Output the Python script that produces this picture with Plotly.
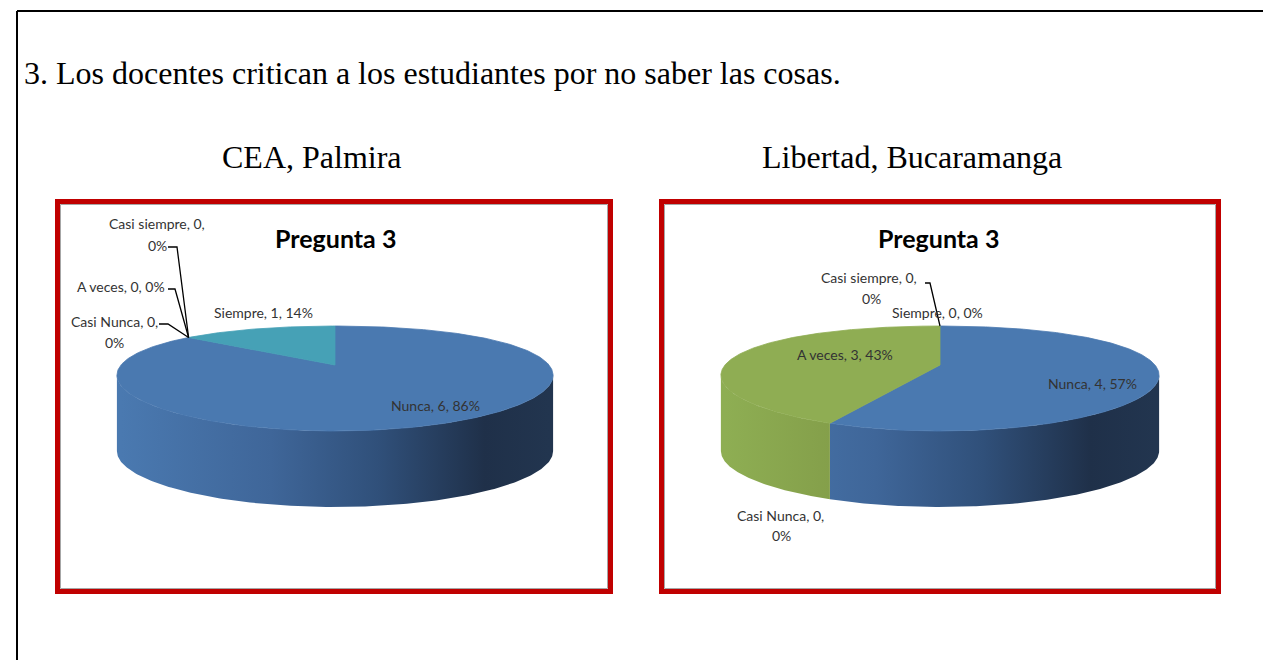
import numpy as np
import plotly.graph_objects as go

# ---------------- data ----------------
categories = ["Nunca", "Casi Nunca", "A veces", "Casi siempre", "Siempre"]
cea_values = [6, 0, 0, 0, 1]
libertad_values = [4, 0, 3, 0, 0]
slice_colors = ["#4a79b0", "#c0504d", "#8fad53", "#8064a2", "#46a1b6"]
side_colorscales = [
    [[0, "#4a79b0"], [0.35, "#3f6699"], [0.6, "#30507a"], [0.85, "#1f3049"], [1, "#22354f"]],
    [[0, "#c0504d"], [1, "#5a2120"]],
    [[0, "#8eae53"], [0.25, "#849f4a"], [0.6, "#5e7434"], [1, "#3d4b22"]],
    [[0, "#8064a2"], [1, "#3b2e4b"]],
    [[0, "#46a1b6"], [1, "#1f4a54"]],
]
page_title = "3. Los docentes critican a los estudiantes por no saber las cosas."
chart_names = ["CEA, Palmira", "Libertad, Bucaramanga"]
chart_title = "Pregunta 3"

W, H = 1271, 660
OFF = 8  # default page margin of the html body

# ---------------- geometry / layout ----------------
pies = [
    dict(values=cea_values, cx=335, cy=365, A=214, box=(55, 199, 613, 594), name_x=312, title_x=335,
         labels={
             "Nunca": [(435, 405)],
             "Siempre": [(263, 312)],
             "Casi Nunca": [(114, 321), (114, 342)],
             "A veces": [(121, 286)],
             "Casi siempre": [(157, 223), (157, 245)],
         },
         leaders={
             "Casi siempre": [(168, 247), (177, 247)],
             "A veces": [(168, 289), (175, 289)],
             "Casi Nunca": [(159, 324), (168, 324)],
         }),
    dict(values=libertad_values, cx=940, cy=365, A=215, box=(659, 199, 1221, 594), name_x=912, title_x=938,
         labels={
             "Nunca": [(1092, 383)],
             "Siempre": [(937, 312)],
             "Casi Nunca": [(780, 515), (781, 535)],
             "A veces": [(845, 354)],
             "Casi siempre": [(869, 277), (871, 298)],
         },
         leaders={
             "Casi siempre": [(925, 283), (930, 283)],
         }),
]
B, C, DEPTH, PERSP = 52.5, 13.5, 76, 0.2

# silhouette angles of the tilted disc
c_sil = (1 - np.sqrt(1 + 8 * PERSP ** 2)) / (4 * PERSP)
TH_R = np.degrees(np.arccos(c_sil))
TH_L = 360 - TH_R


def proj(th_deg, z, p):
    th = np.radians(th_deg)
    u, v = np.sin(th), -np.cos(th)
    x = p["cx"] + p["A"] * u * (1 + PERSP * v)
    y = p["cy"] + B * v + C * v * v + z
    return x, y


fig = go.Figure()
shapes = []
annotations = []

label_font = dict(family="Lato, Carlito, sans-serif", size=14, color="#333333")
serif_font = dict(family="Liberation Serif, Times New Roman, serif", size=32, color="#000000")

for p in pies:
    vals = np.array(p["values"], dtype=float)
    total = vals.sum()
    cum = np.concatenate([[0], np.cumsum(vals)]) / total * 360.0
    # side walls
    for i, cat in enumerate(categories):
        if vals[i] <= 0:
            continue
        a, b = max(cum[i], TH_R), min(cum[i + 1], TH_L)
        if a < b:
            t = np.linspace(a, b, 200)
            xt, yt = proj(t, 0, p)
            xb, yb = proj(t[::-1], DEPTH, p)
            xs = np.concatenate([xt, xb, xt[:1]])
            ys = np.concatenate([yt, yb, yt[:1]])
            fig.add_trace(go.Scatter(
                x=xs, y=ys, mode="lines", fill="toself", line=dict(width=0),
                fillgradient=dict(type="horizontal", colorscale=side_colorscales[i],
                                  start=p["cx"] - p["A"], stop=p["cx"] + p["A"]),
                hoverinfo="skip", showlegend=False))
    # top faces
    for i, cat in enumerate(categories):
        if vals[i] <= 0:
            continue
        t = np.linspace(cum[i], cum[i + 1], 300)
        xt, yt = proj(t, 0, p)
        xs = np.concatenate([[p["cx"]], xt, [p["cx"]]])
        ys = np.concatenate([[p["cy"]], yt, [p["cy"]]])
        fig.add_trace(go.Scatter(
            x=xs, y=ys, mode="lines", fill="toself", fillcolor=slice_colors[i],
            line=dict(width=0.8, color=slice_colors[i]),
            hoverinfo="skip", showlegend=False, name=cat))
    # labels
    for i, cat in enumerate(categories):
        pct = int(round(vals[i] / total * 100))
        full = f"{cat}, {int(vals[i])}, {pct}%"
        pos = p["labels"][cat]
        if len(pos) == 1:
            lines = [full]
        else:
            lines = [f"{cat}, {int(vals[i])},", f"{pct}%"]
        for (lx, ly), txt in zip(pos, lines):
            annotations.append(dict(x=lx, y=ly, xref="x", yref="y", text=txt, showarrow=False,
                                    xanchor="center", yanchor="middle", font=label_font))
        if cat in p["leaders"]:
            ax, ay = proj(cum[i], 0, p)
            pts = p["leaders"][cat] + [(ax, ay)]
            path = "M " + " L ".join(f"{x:.1f},{y:.1f}" for x, y in pts)
            shapes.append(dict(type="path", path=path, xref="x", yref="y",
                               line=dict(color="#000000", width=1.3)))
    # boxes
    x0, y0, x1, y1 = p["box"]
    shapes.append(dict(type="rect", x0=x0 + 2.5, y0=y0 + 2.5, x1=x1 - 2.5, y1=y1 - 2.5,
                       xref="x", yref="y", line=dict(color="#c00000", width=5), layer="below"))
    shapes.append(dict(type="rect", x0=x0 + 5.5, y0=y0 + 5.5, x1=x1 - 5.5, y1=y1 - 5.5,
                       xref="x", yref="y", line=dict(color="#a6a6a6", width=1), layer="below"))
    annotations.append(dict(x=p["title_x"], y=238, xref="x", yref="y", text="<b>" + chart_title + "</b>",
                            showarrow=False, xanchor="center", yanchor="middle",
                            font=dict(family="Lato, Carlito, sans-serif", size=25, color="#000000")))

for name, p in zip(chart_names, pies):
    annotations.append(dict(x=p["name_x"], y=157, xref="x", yref="y", text=name, showarrow=False,
                            xanchor="center", yanchor="middle", font=serif_font))

annotations.append(dict(x=22, y=73, xref="x", yref="y", text=page_title, showarrow=False,
                        xanchor="left", yanchor="middle", font=serif_font))

# page frame
shapes.append(dict(type="line", x0=17, y0=11, x1=W + 5, y1=11, xref="x", yref="y",
                   line=dict(color="#000000", width=2)))
shapes.append(dict(type="line", x0=17, y0=11, x1=17, y1=H + 5, xref="x", yref="y",
                   line=dict(color="#000000", width=2)))

fig.update_layout(
    width=W - OFF, height=H - OFF, autosize=False,
    margin=dict(l=0, r=0, t=0, b=0),
    paper_bgcolor="#ffffff", plot_bgcolor="#ffffff",
    showlegend=False,
    xaxis=dict(range=[OFF, W], visible=False, fixedrange=True, domain=[0, 1]),
    yaxis=dict(range=[H, OFF], visible=False, fixedrange=True, domain=[0, 1]),
    shapes=shapes, annotations=annotations,
)

fig.write_html("out.html")
